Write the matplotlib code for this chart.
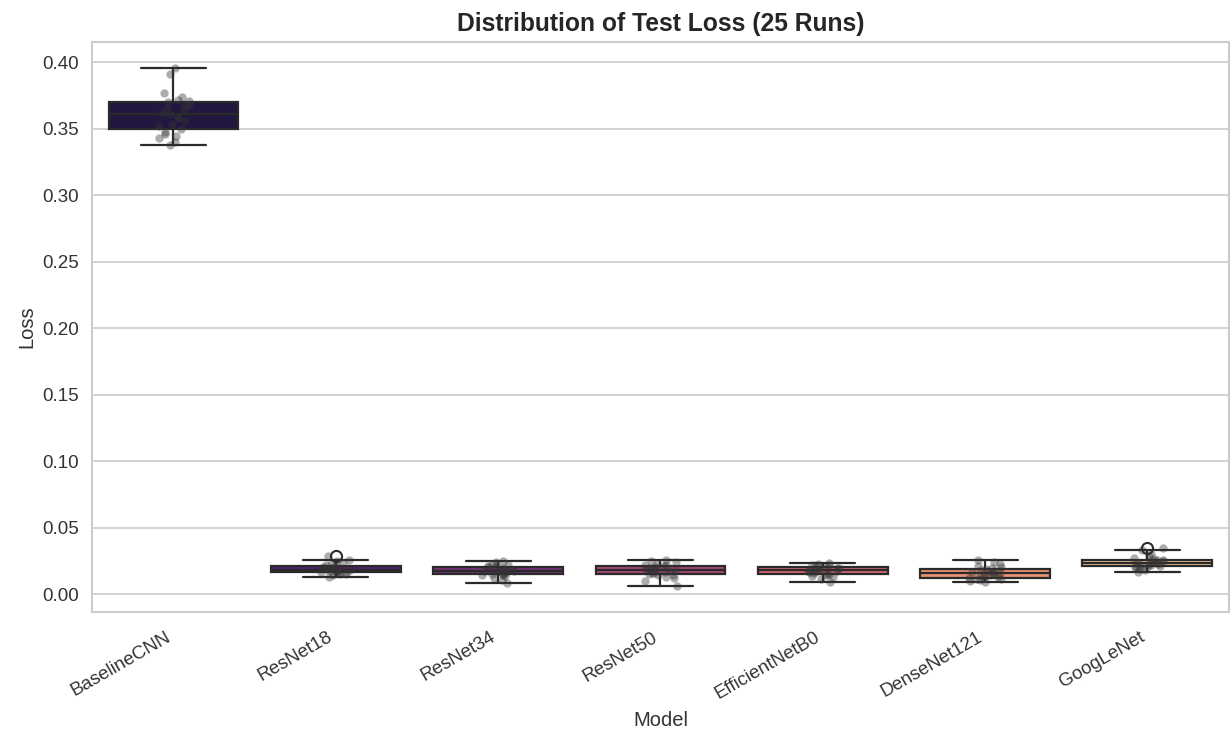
import numpy as np
import pandas as pd
import matplotlib
matplotlib.use("Agg")
import matplotlib.pyplot as plt
import seaborn as sns

models = ["BaselineCNN", "ResNet18", "ResNet34", "ResNet50",
          "EfficientNetB0", "DenseNet121", "GoogLeNet"]

baseline_cnn = [0.338, 0.340, 0.343, 0.345, 0.346, 0.348, 0.350, 0.352, 0.354,
                0.356, 0.358, 0.359, 0.361, 0.362, 0.364, 0.365, 0.367, 0.368,
                0.370, 0.371, 0.372, 0.374, 0.377, 0.391, 0.396]
resnet18 = [0.0130, 0.0142, 0.0150, 0.0156, 0.0160, 0.0164, 0.0168, 0.0172,
            0.0175, 0.0178, 0.0181, 0.0184, 0.0187, 0.0190, 0.0193, 0.0197,
            0.0201, 0.0206, 0.0212, 0.0218, 0.0225, 0.0236, 0.0248, 0.0262, 0.0290]
resnet34 = [0.0083, 0.0105, 0.0122, 0.0135, 0.0142, 0.0147, 0.0150, 0.0156,
            0.0162, 0.0167, 0.0171, 0.0175, 0.0178, 0.0182, 0.0186, 0.0190,
            0.0195, 0.0200, 0.0205, 0.0210, 0.0216, 0.0222, 0.0230, 0.0240, 0.0249]
resnet50 = [0.0062, 0.0098, 0.0120, 0.0134, 0.0142, 0.0147, 0.0150, 0.0157,
            0.0164, 0.0170, 0.0175, 0.0180, 0.0184, 0.0188, 0.0192, 0.0197,
            0.0202, 0.0207, 0.0212, 0.0218, 0.0224, 0.0232, 0.0240, 0.0248, 0.0255]
efficientnet_b0 = [0.0090, 0.0112, 0.0128, 0.0138, 0.0145, 0.0151, 0.0155, 0.0160,
                   0.0165, 0.0169, 0.0173, 0.0177, 0.0181, 0.0184, 0.0188, 0.0192,
                   0.0195, 0.0199, 0.0203, 0.0207, 0.0212, 0.0218, 0.0223, 0.0229, 0.0234]
densenet121 = [0.0090, 0.0100, 0.0107, 0.0112, 0.0117, 0.0121, 0.0125, 0.0130,
               0.0136, 0.0142, 0.0148, 0.0153, 0.0158, 0.0163, 0.0168, 0.0173,
               0.0178, 0.0184, 0.0190, 0.0197, 0.0205, 0.0215, 0.0228, 0.0242, 0.0255]
googlenet = [0.0168, 0.0180, 0.0190, 0.0198, 0.0203, 0.0207, 0.0210, 0.0215,
             0.0220, 0.0224, 0.0228, 0.0232, 0.0236, 0.0240, 0.0244, 0.0248,
             0.0252, 0.0257, 0.0262, 0.0268, 0.0275, 0.0285, 0.0300, 0.0333, 0.0350]

series = [baseline_cnn, resnet18, resnet34, resnet50, efficientnet_b0, densenet121, googlenet]

rows = []
for m, vals in zip(models, series):
    for v in vals:
        rows.append({"Model": m, "Loss": v})
df = pd.DataFrame(rows)

sns.set_theme(style="whitegrid")
plt.rcParams['font.family'] = ['Liberation Sans', 'DejaVu Sans']
plt.rcParams['axes.linewidth'] = 1.5
plt.rcParams['grid.linewidth'] = 1.2

fig, ax = plt.subplots(figsize=(12.31, 7.33), dpi=100)
sns.boxplot(data=df, x="Model", y="Loss", hue="Model", order=models,
            palette="magma", legend=False, ax=ax, width=0.8,
            linecolor="#2a2a2a", linewidth=1.6,
            flierprops=dict(markersize=8, markeredgewidth=1.5))
sns.stripplot(data=df, x="Model", y="Loss", order=models, color="#333333",
              alpha=0.4, size=6, jitter=0.1, ax=ax)

ax.set_title("Distribution of Test Loss (25 Runs)", fontsize=17.7, fontweight="bold",
             color="#262626", pad=8)
ax.set_xlabel("Model", fontsize=14.5, color="#333333", labelpad=6)
ax.set_ylabel("Loss", fontsize=14.5, color="#333333")
ax.yaxis.set_major_formatter(matplotlib.ticker.FormatStrFormatter("%.2f"))
plt.setp(ax.get_xticklabels(), rotation=30, ha="right")
ax.tick_params(labelsize=13.5, colors="#333333")
ax.tick_params(axis="x", pad=6)

fig.subplots_adjust(left=0.075, right=0.998, top=0.943, bottom=0.165)
fig.savefig("out.png", dpi=100)
